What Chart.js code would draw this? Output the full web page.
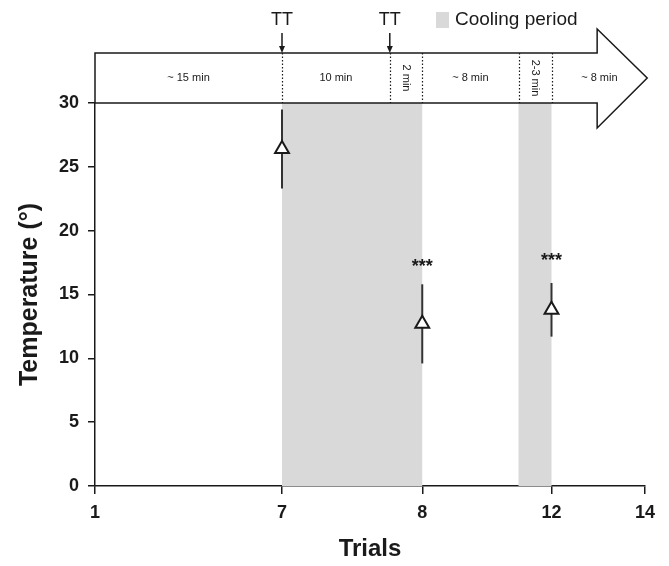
<!DOCTYPE html>
<html lang="en">
<head>
  <meta charset="UTF-8" />
  <title>Temperature by trial</title>
  <script src="https://cdn.jsdelivr.net/npm/chart.js"></script>
  <style>
    body { margin: 0; background: #fff; }
    #wrap { width: 669px; height: 566px; }
  </style>
</head>
<body>
  <div id="wrap"><canvas id="chart"></canvas></div>
  <script>
    // x axis: schematic position of each trial along the time arrow (0-100)
    const trialLabels = ["1", "7", "8", "12", "14"];
    const trialPos = [0, 34, 59.5, 83, 100];
    const yTicks = [0, 5, 10, 15, 20, 25, 30];

    // time line segments inside the arrow
    const segmentLabels = ["~ 15 min", "10 min", "2 min", "~ 8 min", "2-3 min", "~ 8 min"];
    const segmentEdges = [0, 34, 53.6, 59.5, 77, 83, 100.4];
    const segmentRotated = [false, false, true, false, true, false];
    const arrowBodyEnd = 91.3;
    const arrowTip = 100.4;
    const ttPos = [34, 53.6];
    const coolingPeriods = [[34, 59.5], [77, 83]];

    // measurements
    const measuredTrials = ["7", "8", "12"];
    const tempMean = [26.4, 12.7, 13.8];
    const tempErr = [3.1, 3.1, 2.1];
    const sigMarks = ["", "***", "***"];
    const sigLevel = [null, 17.5, 17.9];

    const FONT = "'Liberation Sans', Arial, sans-serif";
    const INK = "#1a1a1a";
    const SHADE = "#d9d9d9";

    const points = measuredTrials.map((t, i) => ({
      x: trialPos[trialLabels.indexOf(t)],
      y: tempMean[i]
    }));

    const schemePlugin = {
      id: "scheme",
      beforeDatasetsDraw(chart) {
        const { ctx, chartArea, scales: { x, y } } = chart;
        const y30 = y.getPixelForValue(30);
        const y0 = y.getPixelForValue(0);
        const bandTop = y30 - 50;
        const bandMid = (bandTop + y30) / 2;
        const xEnd = x.getPixelForValue(arrowBodyEnd);
        const xTip = x.getPixelForValue(arrowTip);

        ctx.save();
        // cooling shading
        ctx.fillStyle = SHADE;
        coolingPeriods.forEach(([a, b]) => {
          const xa = x.getPixelForValue(a), xb = x.getPixelForValue(b);
          ctx.fillRect(xa, y30, xb - xa, y0 - y30);
        });

        // big arrow
        ctx.beginPath();
        ctx.moveTo(chartArea.left, bandTop);
        ctx.lineTo(xEnd, bandTop);
        ctx.lineTo(xEnd, bandTop - 24);
        ctx.lineTo(xTip, bandMid);
        ctx.lineTo(xEnd, y30 + 25);
        ctx.lineTo(xEnd, y30);
        ctx.lineTo(chartArea.left, y30);
        ctx.closePath();
        ctx.fillStyle = "#fff";
        ctx.fill();
        ctx.strokeStyle = INK;
        ctx.lineWidth = 1.5;
        ctx.stroke();

        // dotted separators
        ctx.setLineDash([1.5, 2]);
        ctx.lineWidth = 1.2;
        for (let i = 1; i < segmentEdges.length - 1; i++) {
          const px = Math.round(x.getPixelForValue(segmentEdges[i])) + 0.5;
          ctx.beginPath();
          ctx.moveTo(px, bandTop);
          ctx.lineTo(px, y30);
          ctx.stroke();
        }
        ctx.setLineDash([]);

        // segment labels
        ctx.fillStyle = INK;
        ctx.font = "11px " + FONT;
        ctx.textAlign = "center";
        ctx.textBaseline = "middle";
        segmentLabels.forEach((lab, i) => {
          const cx = (x.getPixelForValue(segmentEdges[i]) + x.getPixelForValue(segmentEdges[i + 1])) / 2;
          ctx.save();
          ctx.translate(cx, bandMid);
          if (segmentRotated[i]) ctx.rotate(Math.PI / 2);
          ctx.fillText(lab, 0, 0);
          ctx.restore();
        });

        // TT markers
        ctx.font = "18px " + FONT;
        ttPos.forEach(p => {
          const px = x.getPixelForValue(p);
          ctx.fillText("TT", px, 20);
          ctx.beginPath();
          ctx.moveTo(px, 33);
          ctx.lineTo(px, bandTop - 4);
          ctx.lineWidth = 1.5;
          ctx.stroke();
          ctx.beginPath();
          ctx.moveTo(px - 3, bandTop - 7);
          ctx.lineTo(px + 3, bandTop - 7);
          ctx.lineTo(px, bandTop);
          ctx.closePath();
          ctx.fill();
        });

        // legend
        ctx.fillStyle = SHADE;
        ctx.fillRect(436, 12, 13, 16);
        ctx.fillStyle = INK;
        ctx.font = "19px " + FONT;
        ctx.textAlign = "left";
        ctx.fillText("Cooling period", 455, 20);

        // error bars
        ctx.strokeStyle = "#333";
        ctx.lineWidth = 2;
        points.forEach((pt, i) => {
          const px = x.getPixelForValue(pt.x);
          ctx.beginPath();
          ctx.moveTo(px, y.getPixelForValue(pt.y + tempErr[i]));
          ctx.lineTo(px, y.getPixelForValue(pt.y - tempErr[i]));
          ctx.stroke();
        });

        // significance stars
        ctx.fillStyle = INK;
        ctx.font = "bold 18px " + FONT;
        ctx.textAlign = "center";
        points.forEach((pt, i) => {
          if (!sigMarks[i]) return;
          ctx.fillText(sigMarks[i], x.getPixelForValue(pt.x), y.getPixelForValue(sigLevel[i]) + 4);
        });
        ctx.restore();
      }
    };

    new Chart(document.getElementById("chart"), {
      type: "scatter",
      data: {
        datasets: [{
          data: points,
          pointStyle: "triangle",
          radius: 8,
          hoverRadius: 8,
          backgroundColor: "#fff",
          borderColor: INK,
          borderWidth: 2,
          clip: false
        }]
      },
      options: {
        responsive: true,
        maintainAspectRatio: false,
        animation: false,
        events: [],
        layout: { padding: { top: 103, right: 24, left: 0, bottom: 0 } },
        plugins: { legend: { display: false }, tooltip: { enabled: false } },
        scales: {
          x: {
            type: "linear",
            min: 0,
            max: 100,
            afterBuildTicks: s => { s.ticks = trialPos.map(v => ({ value: v })); },
            afterFit: s => { s.height = 80; },
            ticks: {
              autoSkip: false,
              maxRotation: 0,
              padding: 8,
              color: INK,
              font: { family: FONT, size: 18, weight: "bold" },
              callback: v => trialLabels[trialPos.indexOf(v)]
            },
            grid: { drawOnChartArea: false, tickLength: 8, color: INK, lineWidth: 1.5 },
            border: { color: INK, width: 1.5 },
            title: {
              display: true,
              text: "Trials",
              color: INK,
              padding: { top: 0, bottom: 2 },
              font: { family: FONT, size: 24, weight: "bold" }
            }
          },
          y: {
            min: 0,
            max: 30,
            afterBuildTicks: s => { s.ticks = yTicks.map(v => ({ value: v })); },
            afterFit: s => { s.width = 95; },
            ticks: {
              padding: 9,
              color: INK,
              font: { family: FONT, size: 18, weight: "bold" }
            },
            grid: { drawOnChartArea: false, tickLength: 7, color: INK, lineWidth: 1.5 },
            border: { color: INK, width: 1.5 },
            title: {
              display: true,
              text: "Temperature (°)",
              color: INK,
              padding: { top: 15, bottom: 0 },
              font: { family: FONT, size: 25, weight: "bold" }
            }
          }
        }
      },
      plugins: [schemePlugin]
    });
  </script>
</body>
</html>
